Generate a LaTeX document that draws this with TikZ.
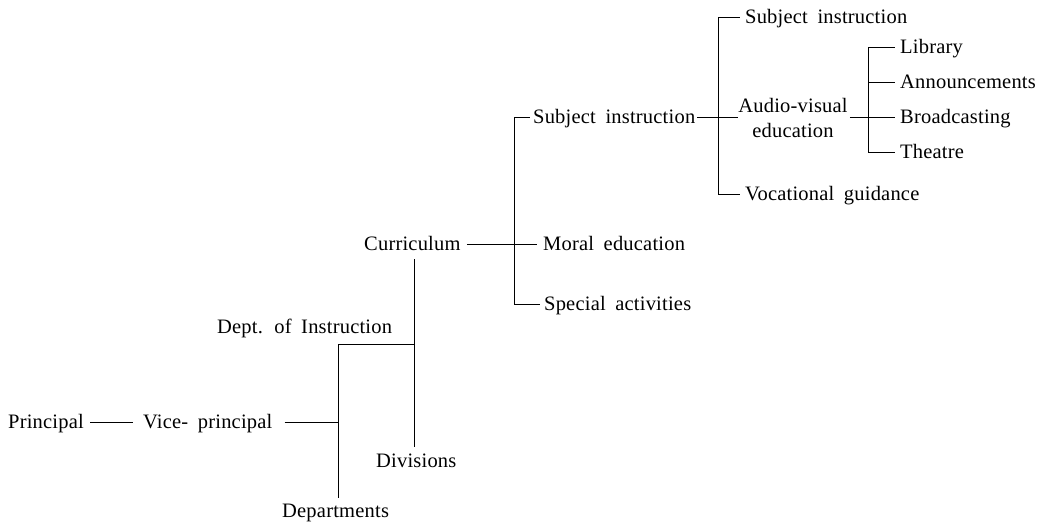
\documentclass[tikz,border=0pt]{standalone}
\usepackage{fontspec}
\setmainfont{Liberation Serif}[LetterSpace=1,WordSpace=1.8]
\begin{document}
\begin{tikzpicture}[x=1pt,y=-1pt,
  lbl/.style={anchor=mid west,inner sep=0pt,font=\fontsize{20.5}{25}\selectfont},
  wire/.style={line width=0.9pt,line cap=butt}]
\useasboundingbox (0,0) rectangle (1045,522);

% --- labels (text sits a little below the connector lines) ---
\node[lbl] (principal)   at (8,426.5)   {Principal};
\node[lbl] (vice)        at (143,426.5) {Vice- principal};
\node[lbl] (deptins)     at (217,331.5) {Dept. of Instruction};
\node[lbl] (departments) at (282,515)   {Departments};
\node[lbl] (divisions)   at (376,465.5) {Divisions};
\node[lbl] (curriculum)  at (364,248.5) {Curriculum};
\node[lbl] (subjA)       at (533,121.5) {Subject instruction};
\node[lbl] (moral)       at (543,248.5) {Moral education};
\node[lbl] (special)     at (544,308.5) {Special activities};
\node[lbl] (subjB)       at (745,21.5)  {Subject instruction};
\node[lbl,align=center,anchor=center] (audio) at (793,117.5) {Audio-visual\\education};
\node[lbl] (vocational)  at (745,198)   {Vocational guidance};
\node[lbl] (library)     at (900,51.5)  {Library};
\node[lbl] (announce)    at (900,86.5)  {Announcements};
\node[lbl] (broadcast)   at (900,121.5) {Broadcasting};
\node[lbl] (theatre)     at (900,156.5) {Theatre};

% --- bus lines (vertical spines) ---
\coordinate (busAtop) at (338,344);    \coordinate (busAbot) at (338,498);
\coordinate (busBtop) at (414,259);    \coordinate (busBbot) at (414,447);
\coordinate (busCtop) at (514,117.5);  \coordinate (busCbot) at (514,304.5);
\coordinate (busDtop) at (718,17.5);   \coordinate (busDbot) at (718,194);
\coordinate (busEtop) at (868,47.5);   \coordinate (busEbot) at (868,152.5);

\draw[wire] (busAtop) -- (busAbot);
\draw[wire] (busBtop) -- (busBbot);
\draw[wire] (busCtop) -- (busCbot);
\draw[wire] (busDtop) -- (busDbot);
\draw[wire] (busEtop) -- (busEbot);

% --- connectors (line level is 4pt above each label's mid line) ---
\draw[wire] ([shift={(6,-4)}]principal.mid east) -- ([shift={(-10,-4)}]vice.mid west);
\draw[wire] ([shift={(12,-4)}]vice.mid east) -- ([yshift=4pt]vice.mid east -| busAtop);
\draw[wire] (busAtop) -- (busAtop -| busBtop);
\draw[wire] ([shift={(6,-4)}]curriculum.mid east) -- ([shift={(-6,-4)}]moral.mid west);
\draw[wire] (busCtop) -- ([shift={(-3,-4)}]subjA.mid west);
\draw[wire] (busCbot) -- ([shift={(-4,-4)}]special.mid west);
\draw[wire] ([shift={(2,-4)}]subjA.mid east) -- ([yshift=4pt]subjA.mid east -| audio.west);
\draw[wire] (busDtop) -- ([shift={(-5,-4)}]subjB.mid west);
\draw[wire] (busDbot) -- ([shift={(-5,-4)}]vocational.mid west);
\draw[wire] ([shift={(2,-4)}]audio.east |- broadcast.mid west) -- ([shift={(-5,-4)}]broadcast.mid west);
\draw[wire] (busEtop) -- ([shift={(-5,-4)}]library.mid west);
\draw[wire] ([yshift=4pt]busEtop |- announce.mid west) -- ([shift={(-5,-4)}]announce.mid west);
\draw[wire] (busEbot) -- ([shift={(-5,-4)}]theatre.mid west);
\end{tikzpicture}
\end{document}
